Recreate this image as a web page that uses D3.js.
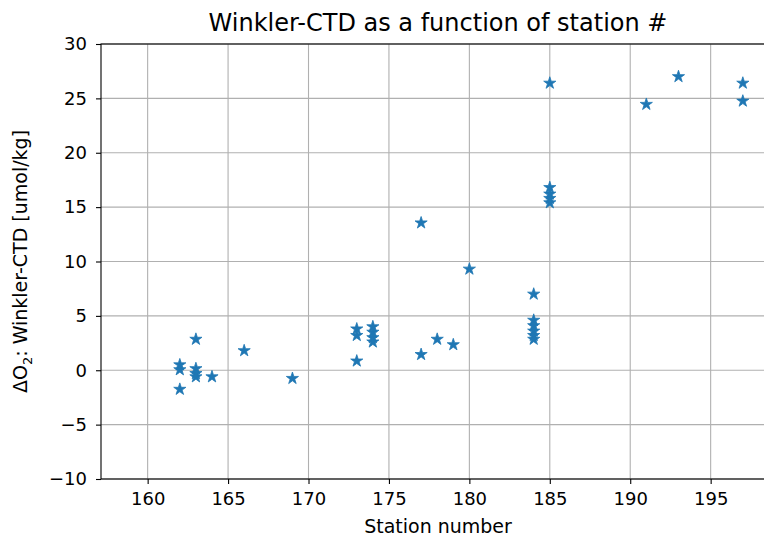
<!DOCTYPE html>
<html>
<head>
<meta charset="utf-8">
<script src="https://cdn.jsdelivr.net/npm/d3@7"></script>
<style>
  body { margin: 0; background: #fff; }
  text { font-family: "DejaVu Sans", sans-serif; fill: #000; }
</style>
</head>
<body>
<svg id="chart" width="764" height="543"></svg>
<script>
// Data
const stations = [162, 162, 162, 163, 163, 163, 163, 164, 166, 169,
                  173, 173, 173, 174, 174, 174, 174, 177, 177, 178, 179, 180,
                  184, 184, 184, 184, 184, 184, 185, 185, 185, 185, 185,
                  191, 193, 197, 197];
const deltaO2 = [0.5, 0.05, -1.75, 2.85, 0.15, -0.3, -0.6, -0.6, 1.8, -0.75,
                 3.8, 3.2, 0.85, 4.0, 3.5, 3.0, 2.6, 13.55, 1.45, 2.85, 2.35, 9.3,
                 7.0, 4.6, 4.1, 3.6, 3.2, 2.85, 26.4, 16.8, 16.2, 15.8, 15.4,
                 24.45, 27.0, 26.4, 24.75];
const xTicks = [160, 165, 170, 175, 180, 185, 190, 195];
const yTicks = [-10, -5, 0, 5, 10, 15, 20, 25, 30];

const title = "Winkler-CTD as a function of station #";
const xLabel = "Station number";

const svg = d3.select("#chart");
const m = { left: 101, right: 775, top: 44, bottom: 479 };

const x = d3.scaleLinear().domain([157.1, 199.0]).range([m.left, m.right]);
const y = d3.scaleLinear().domain([-10, 30]).range([m.bottom, m.top]);

// grid
const g = svg.append("g");
g.selectAll(".gx").data(xTicks).enter().append("line")
  .attr("x1", d => x(d)).attr("x2", d => x(d))
  .attr("y1", m.top).attr("y2", m.bottom)
  .attr("stroke", "#b0b0b0").attr("stroke-width", 1.1);
g.selectAll(".gy").data(yTicks).enter().append("line")
  .attr("x1", m.left).attr("x2", m.right)
  .attr("y1", d => y(d)).attr("y2", d => y(d))
  .attr("stroke", "#b0b0b0").attr("stroke-width", 1.1);

// points
const star = d3.symbol().type(d3.symbolStar).size(46);
svg.append("g").selectAll("path").data(stations).enter().append("path")
  .attr("d", star)
  .attr("transform", (d, i) => `translate(${x(d)},${y(deltaO2[i])})`)
  .attr("fill", "#1f77b4")
  .attr("stroke", "#1f77b4")
  .attr("stroke-width", 0.8);

// axes
const fmt = d => d < 0 ? "\u2212" + Math.abs(d) : String(d);
const xAxis = d3.axisBottom(x).tickValues(xTicks).tickSize(5).tickPadding(8).tickFormat(fmt);
const yAxis = d3.axisLeft(y).tickValues(yTicks).tickSize(5).tickPadding(9).tickFormat(fmt);

const gx = svg.append("g").attr("transform", `translate(0,${m.bottom})`).call(xAxis);
const gy = svg.append("g").attr("transform", `translate(${m.left},0)`).call(yAxis);
[gx, gy].forEach(a => {
  a.select(".domain").remove();
  a.selectAll(".tick line").attr("stroke", "#000").attr("stroke-width", 1.1);
  a.selectAll(".tick text").attr("font-size", 18).attr("font-family", "DejaVu Sans").attr("fill", "#000");
});

// spines
svg.append("rect")
  .attr("x", m.left).attr("y", m.top)
  .attr("width", m.right - m.left).attr("height", m.bottom - m.top)
  .attr("fill", "none").attr("stroke", "#000").attr("stroke-width", 1.1);

// title
svg.append("text")
  .attr("x", (m.left + m.right) / 2).attr("y", 31)
  .attr("text-anchor", "middle").attr("font-size", 24)
  .text(title);

// x label
svg.append("text")
  .attr("x", (m.left + m.right) / 2).attr("y", 533)
  .attr("text-anchor", "middle").attr("font-size", 19)
  .text(xLabel);

// y label
const yl = svg.append("text")
  .attr("transform", `translate(27,${(m.top + m.bottom) / 2}) rotate(-90)`)
  .attr("text-anchor", "middle").attr("font-size", 19);
yl.append("tspan").text("\u0394O");
yl.append("tspan").attr("font-size", 13).attr("dy", 5).text("2");
yl.append("tspan").attr("dy", -5).text(": Winkler-CTD [umol/kg]");
</script>
</body>
</html>
